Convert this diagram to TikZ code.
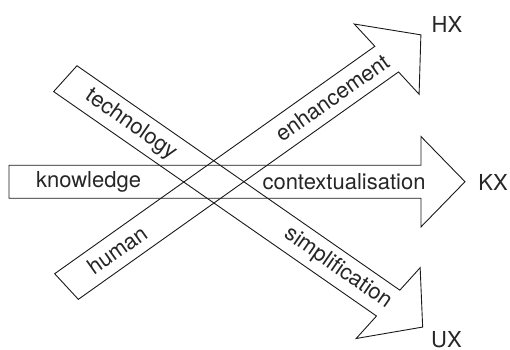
\documentclass[tikz,border=0pt]{standalone}
\usepackage{fontspec}
\setmainfont{TeX Gyre Heros}
\begin{document}
\begin{tikzpicture}[x=1pt,y=1pt,
  arrowshape/.style={draw=black!90, line width=0.9pt, line join=miter},
  lbl/.style={font=\fontsize{22}{24}\selectfont, text=black!85, inner sep=0pt}]
\useasboundingbox (0,0) rectangle (510,-349);
\begin{scope}[yscale=0.877]
  % knowledge -> KX
  \begin{scope}[shift={(9,-207.2)}]
    \draw[arrowshape] (0,18.8) -- (412,18.8) -- (412,51.5) -- (456,0) -- (412,-51.5) -- (412,-18.8) -- (0,-18.8) -- cycle;
    \node[lbl] (knowledge) at (79.5,0) {knowledge};
    \node[lbl] (ctx) at (335,0) {contextualisation};
  \end{scope}
  % human -> HX
  \begin{scope}[shift={(66.5,-326.7)}, rotate=39]
    \draw[arrowshape] (0,18.8) -- (412,18.8) -- (412,51.5) -- (456,0) -- (412,-51.5) -- (412,-18.8) -- (0,-18.8) -- cycle;
    \node[lbl, rotate=35.4] (human) at (66,0) {human};
    \node[lbl, rotate=35.4] (enh) at (342,0) {enhancement};
  \end{scope}
  % technology -> UX
  \begin{scope}[shift={(65.3,-89.7)}, rotate=-38.4]
    \draw[arrowshape] (0,18.8) -- (412,18.8) -- (412,51.5) -- (456,0) -- (412,-51.5) -- (412,-18.8) -- (0,-18.8) -- cycle;
    \node[lbl, rotate=-34.8] (tech) at (84,0) {technology};
    \node[lbl, rotate=-34.8] (simp) at (348,0) {simplification};
  \end{scope}
\end{scope}
\node[lbl] (HX) at (447,-24.5) {HX};
\node[lbl] (KX) at (493,-182.5) {KX};
\node[lbl] (UX) at (446.5,-339.5) {UX};
\end{tikzpicture}
\end{document}
